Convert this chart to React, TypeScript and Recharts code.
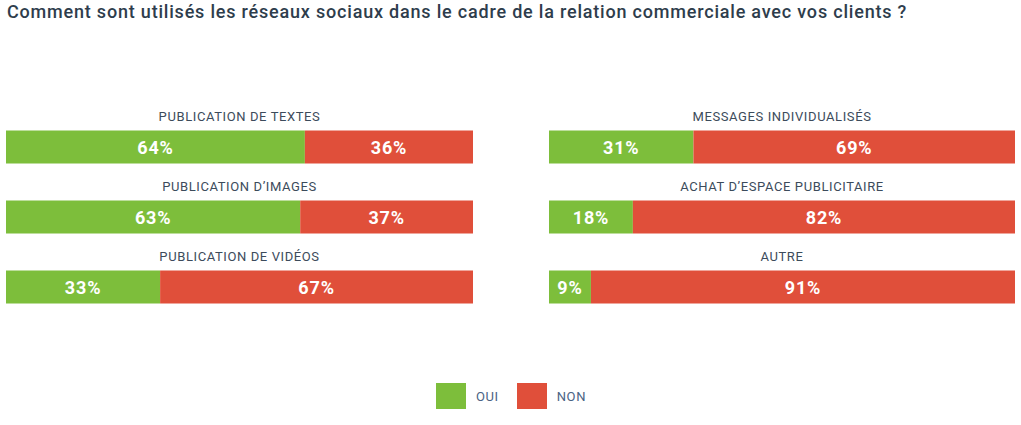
import React from "react";
import { BarChart, Bar, XAxis, YAxis, LabelList } from "recharts";

const TITLE = "Comment sont utilisés les réseaux sociaux dans le cadre de la relation commerciale avec vos clients ?";
const SERIES_NAMES = ["OUI", "NON"];
const COLORS = ["#7dbe3b", "#e04f3a"];

const leftCategories = ["PUBLICATION DE TEXTES", "PUBLICATION D’IMAGES", "PUBLICATION DE VIDÉOS"];
const leftOui = [64, 63, 33];
const leftNon = [36, 37, 67];

const rightCategories = ["MESSAGES INDIVIDUALISÉS", "ACHAT D’ESPACE PUBLICITAIRE", "AUTRE"];
const rightOui = [31, 18, 9];
const rightNon = [69, 82, 91];

const FONT = "Roboto, 'DejaVu Sans', sans-serif";
const TEXT_COLOR = "#3c4b5b";

const build = (cats: string[], oui: number[], non: number[]) =>
  cats.map((name, i) => ({ name, oui: oui[i], non: non[i] }));

const pctLabel = (props: any) => {
  const { x, y, width, height, value } = props;
  return (
    <text
      x={x + width / 2}
      y={y + height / 2}
      dy={7}
      textAnchor="middle"
      fill="#ffffff"
      fontFamily={FONT}
      fontWeight={700}
      fontSize={18}
      letterSpacing={0.8}
    >
      {value}%
    </text>
  );
};

type PanelProps = { data: any[]; left: number; width: number; mLeft: number; mRight: number };

const Panel = ({ data, left, width, mLeft, mRight }: PanelProps) => {
  const center = mLeft + (width - mLeft - mRight) / 2;
  const catLabel = (props: any) => {
    const { y, value } = props;
    return (
      <text
        x={center}
        y={y - 10}
        textAnchor="middle"
        fill={TEXT_COLOR}
        fontFamily={FONT}
        fontWeight={400}
        fontSize={13}
        letterSpacing={0.6}
      >
        {value}
      </text>
    );
  };
  return (
    <div style={{ position: "absolute", left, top: 0 }}>
      <BarChart
        width={width}
        height={425}
        data={data}
        layout="vertical"
        margin={{ top: 111.5, bottom: 103.5, left: mLeft, right: mRight }}
      >
        <XAxis type="number" domain={[0, 100]} hide />
        <YAxis type="category" dataKey="name" hide />
        <Bar dataKey="oui" stackId="a" fill={COLORS[0]} barSize={33} isAnimationActive={false}>
          <LabelList dataKey="oui" content={pctLabel} />
          <LabelList dataKey="name" content={catLabel} />
        </Bar>
        <Bar dataKey="non" stackId="a" fill={COLORS[1]} barSize={33} isAnimationActive={false}>
          <LabelList dataKey="non" content={pctLabel} />
        </Bar>
      </BarChart>
    </div>
  );
};

export default function App() {
  const leftData = build(leftCategories, leftOui, leftNon);
  const rightData = build(rightCategories, rightOui, rightNon);
  return (
    <div style={{ position: "absolute", left: 0, top: 0, width: 1021, height: 425, background: "#fff", overflow: "hidden" }}>
      <div
        style={{
          position: "absolute",
          left: 7,
          top: 3,
          fontFamily: FONT,
          fontSize: 18,
          lineHeight: "18px",
          color: "#2e3d4c",
          whiteSpace: "nowrap",
          fontWeight: 500,
          letterSpacing: 0.8,
        }}
      >
        {TITLE}
      </div>
      <Panel data={leftData} left={0} width={480} mLeft={6} mRight={7} />
      <Panel data={rightData} left={540} width={481} mLeft={9} mRight={6} />
      <div style={{ position: "absolute", left: 436, top: 383, display: "flex", alignItems: "center", fontFamily: FONT }}>
        {SERIES_NAMES.map((n, i) => (
          <div key={n} style={{ display: "flex", alignItems: "center", marginRight: 18 }}>
            <div style={{ width: 30, height: 26, background: COLORS[i] }} />
            <span style={{ marginLeft: 10, fontSize: 13, color: "#4a6384", fontWeight: 400, letterSpacing: 0.6 }}>{n}</span>
          </div>
        ))}
      </div>
    </div>
  );
}
